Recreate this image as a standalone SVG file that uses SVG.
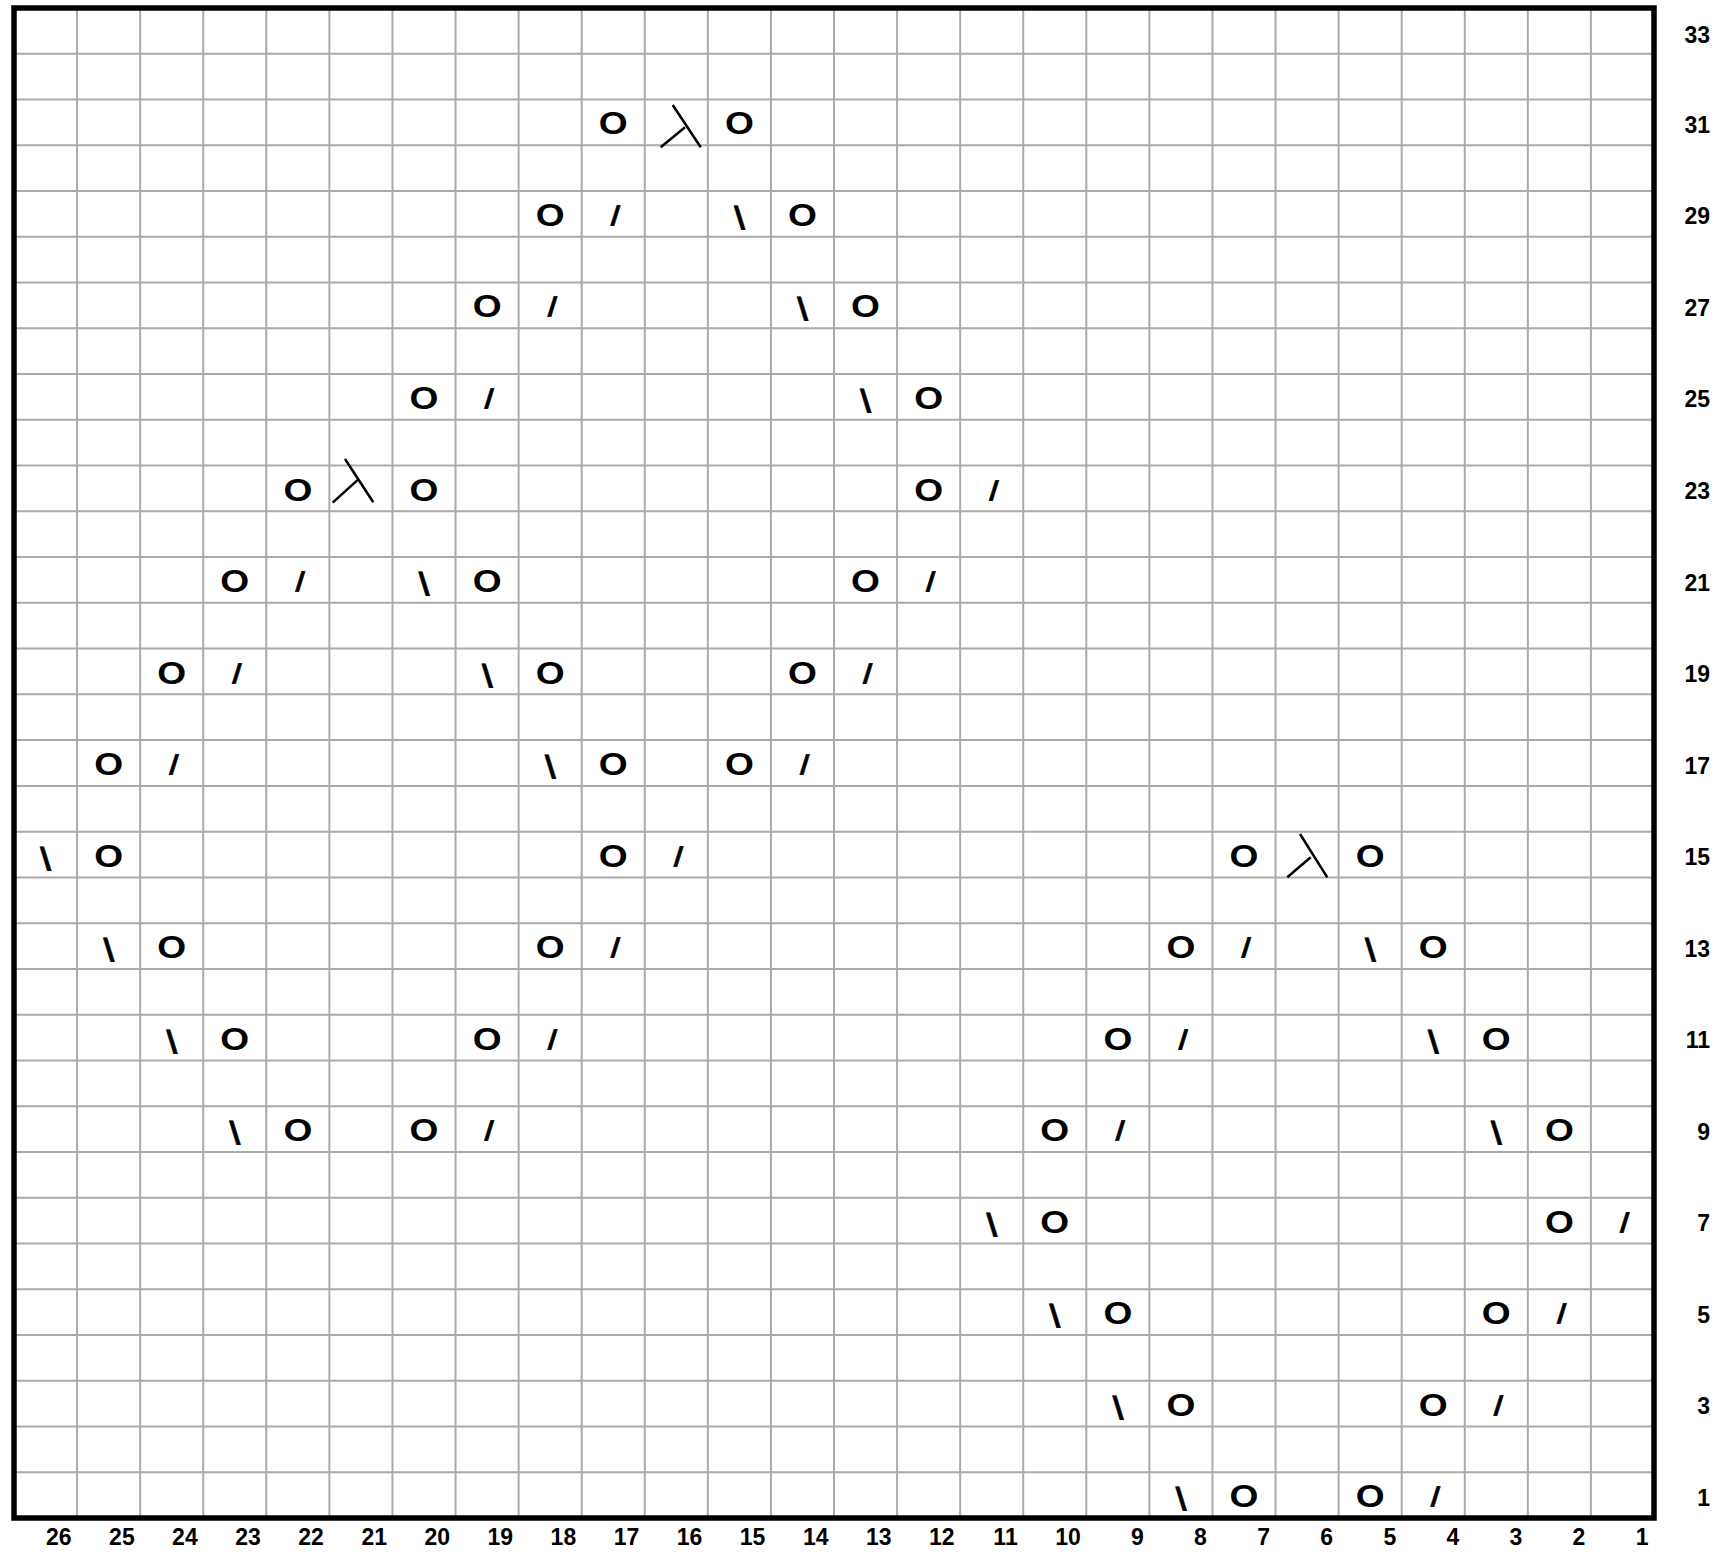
<svg xmlns="http://www.w3.org/2000/svg" width="1720" height="1555" viewBox="0 0 1720 1555">
<style>
.grid{fill:none;stroke:#ababab;stroke-width:2}
.frame{fill:none;stroke:#000;stroke-width:5.5}
.o{font-family:"Liberation Sans",Arial,sans-serif;font-weight:bold;font-size:32px;text-anchor:middle;fill:#000}
.s{font-family:"Liberation Sans",Arial,sans-serif;font-weight:bold;font-size:27px;text-anchor:middle;fill:#000;stroke:#000;stroke-width:0.8}
.b{font-family:"Liberation Sans",Arial,sans-serif;font-weight:bold;font-size:32px;text-anchor:middle;fill:#000;stroke:#000;stroke-width:0.6}
.lam{fill:none;stroke:#000;stroke-width:2.5}
.lbl{font-family:"Liberation Sans",Arial,sans-serif;font-weight:bold;font-size:23px;text-anchor:end;fill:#000}
</style>
<rect width="1720" height="1555" fill="#fff"/>
<g id="grid">
<path class="grid" d="M77.08 8V1518M140.15 8V1518M203.23 8V1518M266.31 8V1518M329.38 8V1518M392.46 8V1518M455.54 8V1518M518.62 8V1518M581.69 8V1518M644.77 8V1518M707.85 8V1518M770.92 8V1518M834 8V1518M897.08 8V1518M960.15 8V1518M1023.23 8V1518M1086.31 8V1518M1149.38 8V1518M1212.46 8V1518M1275.54 8V1518M1338.62 8V1518M1401.69 8V1518M1464.77 8V1518M1527.85 8V1518M1590.92 8V1518
M14 53.76H1654M14 99.52H1654M14 145.27H1654M14 191.03H1654M14 236.79H1654M14 282.55H1654M14 328.3H1654M14 374.06H1654M14 419.82H1654M14 465.58H1654M14 511.33H1654M14 557.09H1654M14 602.85H1654M14 648.61H1654M14 694.36H1654M14 740.12H1654M14 785.88H1654M14 831.64H1654M14 877.39H1654M14 923.15H1654M14 968.91H1654M14 1014.67H1654M14 1060.42H1654M14 1106.18H1654M14 1151.94H1654M14 1197.7H1654M14 1243.45H1654M14 1289.21H1654M14 1334.97H1654M14 1380.73H1654M14 1426.48H1654M14 1472.24H1654"/>
<rect class="frame" x="14" y="8" width="1640" height="1510"/>
</g>
<g id="symbols">
<g id="row31">
<text class="o" transform="translate(613.2 134.4) scale(1.16 1)">O</text>
<path id="sk31" class="lam" d="M672.7 105L700.7 147.3M685 127.3L660.7 147.3"/>
<text class="o" transform="translate(739.4 134.4) scale(1.16 1)">O</text>
</g>
<g id="row29">
<text class="o" transform="translate(550.2 225.9) scale(1.16 1)">O</text>
<text class="s" transform="translate(614.2 224.9) skewX(-7)">/</text>
<text class="b" transform="translate(740.9 228.9) skewX(7)">\</text>
<text class="o" transform="translate(802.5 225.9) scale(1.16 1)">O</text>
</g>
<g id="row27">
<text class="o" transform="translate(487.1 317.4) scale(1.16 1)">O</text>
<text class="s" transform="translate(551.2 316.4) skewX(-7)">/</text>
<text class="b" transform="translate(804 320.4) skewX(7)">\</text>
<text class="o" transform="translate(865.5 317.4) scale(1.16 1)">O</text>
</g>
<g id="row25">
<text class="o" transform="translate(424 408.9) scale(1.16 1)">O</text>
<text class="s" transform="translate(488.1 407.9) skewX(-7)">/</text>
<text class="b" transform="translate(867 411.9) skewX(7)">\</text>
<text class="o" transform="translate(928.6 408.9) scale(1.16 1)">O</text>
</g>
<g id="row23">
<text class="o" transform="translate(297.9 500.5) scale(1.16 1)">O</text>
<path id="sk23" class="lam" d="M345 459L373.3 502.3M358.3 479.3L332.7 502.7"/>
<text class="o" transform="translate(424 500.5) scale(1.16 1)">O</text>
<text class="o" transform="translate(928.6 500.5) scale(1.16 1)">O</text>
<text class="s" transform="translate(992.7 499.5) skewX(-7)">/</text>
</g>
<g id="row21">
<text class="o" transform="translate(234.8 592) scale(1.16 1)">O</text>
<text class="s" transform="translate(298.9 591) skewX(-7)">/</text>
<text class="b" transform="translate(425.5 595) skewX(7)">\</text>
<text class="o" transform="translate(487.1 592) scale(1.16 1)">O</text>
<text class="o" transform="translate(865.5 592) scale(1.16 1)">O</text>
<text class="s" transform="translate(929.6 591) skewX(-7)">/</text>
</g>
<g id="row19">
<text class="o" transform="translate(171.7 683.5) scale(1.16 1)">O</text>
<text class="s" transform="translate(235.8 682.5) skewX(-7)">/</text>
<text class="b" transform="translate(488.6 686.5) skewX(7)">\</text>
<text class="o" transform="translate(550.2 683.5) scale(1.16 1)">O</text>
<text class="o" transform="translate(802.5 683.5) scale(1.16 1)">O</text>
<text class="s" transform="translate(866.5 682.5) skewX(-7)">/</text>
</g>
<g id="row17">
<text class="o" transform="translate(108.6 775) scale(1.16 1)">O</text>
<text class="s" transform="translate(172.7 774) skewX(-7)">/</text>
<text class="b" transform="translate(551.7 778) skewX(7)">\</text>
<text class="o" transform="translate(613.2 775) scale(1.16 1)">O</text>
<text class="o" transform="translate(739.4 775) scale(1.16 1)">O</text>
<text class="s" transform="translate(803.5 774) skewX(-7)">/</text>
</g>
<g id="row15">
<text class="b" transform="translate(47 869.5) skewX(7)">\</text>
<text class="o" transform="translate(108.6 866.5) scale(1.16 1)">O</text>
<text class="o" transform="translate(613.2 866.5) scale(1.16 1)">O</text>
<text class="s" transform="translate(677.3 865.5) skewX(-7)">/</text>
<text class="o" transform="translate(1244 866.5) scale(1.16 1)">O</text>
<path id="sk15" class="lam" d="M1300 834L1327.3 877.3M1310.7 857.3L1287.3 877.3"/>
<text class="o" transform="translate(1370.2 866.5) scale(1.16 1)">O</text>
</g>
<g id="row13">
<text class="b" transform="translate(110.1 961) skewX(7)">\</text>
<text class="o" transform="translate(171.7 958) scale(1.16 1)">O</text>
<text class="o" transform="translate(550.2 958) scale(1.16 1)">O</text>
<text class="s" transform="translate(614.2 957) skewX(-7)">/</text>
<text class="o" transform="translate(1180.9 958) scale(1.16 1)">O</text>
<text class="s" transform="translate(1245 957) skewX(-7)">/</text>
<text class="b" transform="translate(1371.7 961) skewX(7)">\</text>
<text class="o" transform="translate(1433.2 958) scale(1.16 1)">O</text>
</g>
<g id="row11">
<text class="b" transform="translate(173.2 1052.5) skewX(7)">\</text>
<text class="o" transform="translate(234.8 1049.5) scale(1.16 1)">O</text>
<text class="o" transform="translate(487.1 1049.5) scale(1.16 1)">O</text>
<text class="s" transform="translate(551.2 1048.5) skewX(-7)">/</text>
<text class="o" transform="translate(1117.9 1049.5) scale(1.16 1)">O</text>
<text class="s" transform="translate(1181.9 1048.5) skewX(-7)">/</text>
<text class="b" transform="translate(1434.7 1052.5) skewX(7)">\</text>
<text class="o" transform="translate(1496.3 1049.5) scale(1.16 1)">O</text>
</g>
<g id="row9">
<text class="b" transform="translate(236.3 1144.1) skewX(7)">\</text>
<text class="o" transform="translate(297.9 1141.1) scale(1.16 1)">O</text>
<text class="o" transform="translate(424 1141.1) scale(1.16 1)">O</text>
<text class="s" transform="translate(488.1 1140.1) skewX(-7)">/</text>
<text class="o" transform="translate(1054.8 1141.1) scale(1.16 1)">O</text>
<text class="s" transform="translate(1118.9 1140.1) skewX(-7)">/</text>
<text class="b" transform="translate(1497.8 1144.1) skewX(7)">\</text>
<text class="o" transform="translate(1559.4 1141.1) scale(1.16 1)">O</text>
</g>
<g id="row7">
<text class="b" transform="translate(993.2 1235.6) skewX(7)">\</text>
<text class="o" transform="translate(1054.8 1232.6) scale(1.16 1)">O</text>
<text class="o" transform="translate(1559.4 1232.6) scale(1.16 1)">O</text>
<text class="s" transform="translate(1623.5 1231.6) skewX(-7)">/</text>
</g>
<g id="row5">
<text class="b" transform="translate(1056.3 1327.1) skewX(7)">\</text>
<text class="o" transform="translate(1117.9 1324.1) scale(1.16 1)">O</text>
<text class="o" transform="translate(1496.3 1324.1) scale(1.16 1)">O</text>
<text class="s" transform="translate(1560.4 1323.1) skewX(-7)">/</text>
</g>
<g id="row3">
<text class="b" transform="translate(1119.4 1418.6) skewX(7)">\</text>
<text class="o" transform="translate(1180.9 1415.6) scale(1.16 1)">O</text>
<text class="o" transform="translate(1433.2 1415.6) scale(1.16 1)">O</text>
<text class="s" transform="translate(1497.3 1414.6) skewX(-7)">/</text>
</g>
<g id="row1">
<text class="b" transform="translate(1182.4 1510.1) skewX(7)">\</text>
<text class="o" transform="translate(1244 1507.1) scale(1.16 1)">O</text>
<text class="o" transform="translate(1370.2 1507.1) scale(1.16 1)">O</text>
<text class="s" transform="translate(1434.2 1506.1) skewX(-7)">/</text>
</g>
</g>
<g id="col-labels">
<text class="lbl" x="71.6" y="1545">26</text>
<text class="lbl" x="134.7" y="1545">25</text>
<text class="lbl" x="197.7" y="1545">24</text>
<text class="lbl" x="260.8" y="1545">23</text>
<text class="lbl" x="323.9" y="1545">22</text>
<text class="lbl" x="387" y="1545">21</text>
<text class="lbl" x="450" y="1545">20</text>
<text class="lbl" x="513.1" y="1545">19</text>
<text class="lbl" x="576.2" y="1545">18</text>
<text class="lbl" x="639.3" y="1545">17</text>
<text class="lbl" x="702.3" y="1545">16</text>
<text class="lbl" x="765.4" y="1545">15</text>
<text class="lbl" x="828.5" y="1545">14</text>
<text class="lbl" x="891.6" y="1545">13</text>
<text class="lbl" x="954.6" y="1545">12</text>
<text class="lbl" x="1017.7" y="1545">11</text>
<text class="lbl" x="1080.8" y="1545">10</text>
<text class="lbl" x="1143.9" y="1545">9</text>
<text class="lbl" x="1206.9" y="1545">8</text>
<text class="lbl" x="1270" y="1545">7</text>
<text class="lbl" x="1333.1" y="1545">6</text>
<text class="lbl" x="1396.2" y="1545">5</text>
<text class="lbl" x="1459.2" y="1545">4</text>
<text class="lbl" x="1522.3" y="1545">3</text>
<text class="lbl" x="1585.4" y="1545">2</text>
<text class="lbl" x="1648.5" y="1545">1</text>
</g>
<g id="row-labels">
<text class="lbl" x="1710" y="42.5">33</text>
<text class="lbl" x="1710" y="132.9">31</text>
<text class="lbl" x="1710" y="224.4">29</text>
<text class="lbl" x="1710" y="315.9">27</text>
<text class="lbl" x="1710" y="407.4">25</text>
<text class="lbl" x="1710" y="499">23</text>
<text class="lbl" x="1710" y="590.5">21</text>
<text class="lbl" x="1710" y="682">19</text>
<text class="lbl" x="1710" y="773.5">17</text>
<text class="lbl" x="1710" y="865">15</text>
<text class="lbl" x="1710" y="956.5">13</text>
<text class="lbl" x="1710" y="1048.1">11</text>
<text class="lbl" x="1710" y="1139.6">9</text>
<text class="lbl" x="1710" y="1231.1">7</text>
<text class="lbl" x="1710" y="1322.6">5</text>
<text class="lbl" x="1710" y="1414.1">3</text>
<text class="lbl" x="1710" y="1505.6">1</text>
</g>
</svg>
